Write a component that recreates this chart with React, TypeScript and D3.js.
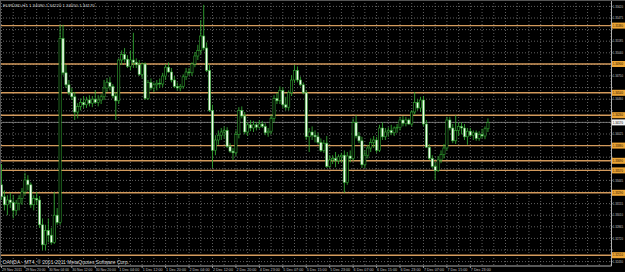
import React from "react";
import * as d3 from "d3";

const symbolName = "EURUSD,H1";
const copyright = "OANDA - MT4, © 2001-2011 MetaQuotes Software Corp.";
const timeLabels = ["29 Nov 2011","29 Nov 20:00","30 Nov 04:00","30 Nov 12:00","30 Nov 20:00","1 Dec 04:00","1 Dec 12:00","1 Dec 20:00","2 Dec 04:00","2 Dec 12:00","2 Dec 20:00","4 Dec 23:00","5 Dec 07:00","5 Dec 15:00","5 Dec 23:00","6 Dec 07:00","6 Dec 15:00","6 Dec 23:00","7 Dec 07:00","7 Dec 15:00","7 Dec 23:00"];

const opens = [1.3339,1.3324,1.3314,1.3320,1.3317,1.3307,1.3316,1.3322,1.3330,1.3345,
1.3339,1.3314,1.3322,1.3320,1.3289,1.3264,1.3282,1.3276,1.3267,1.3301,
1.3292,1.3522,1.3479,1.3464,1.3454,1.3449,1.3430,1.3437,1.3442,1.3439,
1.3445,1.3441,1.3446,1.3442,1.3445,1.3449,1.3460,1.3467,1.3462,1.3450,
1.3444,1.3495,1.3502,1.3496,1.3487,1.3495,1.3492,1.3489,1.3477,1.3490,
1.3447,1.3467,1.3460,1.3464,1.3466,1.3465,1.3475,1.3486,1.3480,1.3470,
1.3462,1.3460,1.3462,1.3474,1.3480,1.3479,1.3490,1.3500,1.3507,1.3525,
1.3510,1.3482,1.3432,1.3382,1.3395,1.3401,1.3405,1.3407,1.3387,1.3381,
1.3379,1.3402,1.3432,1.3425,1.3405,1.3414,1.3410,1.3414,1.3411,1.3415,
1.3412,1.3404,1.3406,1.3422,1.3447,1.3444,1.3457,1.3439,1.3436,1.3454,
1.3470,1.3482,1.3470,1.3464,1.3454,1.3399,1.3405,1.3401,1.3399,1.3392,
1.3382,1.3391,1.3362,1.3370,1.3372,1.3369,1.3374,1.3376,1.3342,1.3375,
1.3372,1.3417,1.3400,1.3394,1.3364,1.3376,1.3385,1.3392,1.3395,1.3382,
1.3410,1.3399,1.3405,1.3407,1.3404,1.3410,1.3411,1.3420,1.3416,1.3420,
1.3415,1.3430,1.3442,1.3435,1.3445,1.3415,1.3386,1.3372,1.3362,1.3357,
1.3370,1.3377,1.3385,1.3420,1.3410,1.3394,1.3407,1.3412,1.3410,1.3399,
1.3406,1.3401,1.3404,1.3397,1.3402,1.3400,1.3409];

const highs = [1.3365,1.3332,1.3326,1.3329,1.3326,1.3320,1.3326,1.3335,1.3354,1.3351,
1.3342,1.3326,1.3330,1.3325,1.3297,1.3289,1.3297,1.3285,1.3330,1.3310,
1.3539,1.3539,1.3489,1.3470,1.3460,1.3455,1.3441,1.3447,1.3450,1.3449,
1.3451,1.3450,1.3457,1.3451,1.3452,1.3470,1.3472,1.3474,1.3465,1.3455,
1.3497,1.3507,1.3510,1.3501,1.3507,1.3529,1.3497,1.3495,1.3492,1.3492,
1.3470,1.3472,1.3467,1.3470,1.3472,1.3479,1.3490,1.3492,1.3485,1.3475,
1.3467,1.3465,1.3477,1.3485,1.3485,1.3492,1.3505,1.3514,1.3545,1.3564,
1.3517,1.3489,1.3439,1.3401,1.3407,1.3410,1.3412,1.3411,1.3391,1.3385,
1.3407,1.3436,1.3437,1.3430,1.3417,1.3420,1.3419,1.3417,1.3420,1.3419,
1.3416,1.3410,1.3426,1.3451,1.3454,1.3462,1.3461,1.3449,1.3457,1.3476,
1.3489,1.3487,1.3474,1.3467,1.3457,1.3410,1.3412,1.3407,1.3404,1.3397,
1.3395,1.3400,1.3376,1.3376,1.3380,1.3377,1.3379,1.3382,1.3380,1.3382,
1.3422,1.3426,1.3405,1.3399,1.3382,1.3389,1.3397,1.3400,1.3399,1.3414,
1.3417,1.3410,1.3411,1.3414,1.3412,1.3415,1.3424,1.3425,1.3424,1.3422,
1.3432,1.3455,1.3446,1.3449,1.3450,1.3420,1.3390,1.3376,1.3367,1.3375,
1.3382,1.3390,1.3424,1.3424,1.3415,1.3426,1.3417,1.3417,1.3415,1.3410,
1.3410,1.3407,1.3407,1.3406,1.3409,1.3412,1.3422];

const lows = [1.3320,1.3307,1.3301,1.3310,1.3297,1.3301,1.3307,1.3314,1.3326,1.3332,
1.3310,1.3307,1.3314,1.3285,1.3257,1.3257,1.3267,1.3264,1.3265,1.3289,
1.3289,1.3476,1.3460,1.3451,1.3445,1.3420,1.3422,1.3432,1.3435,1.3435,
1.3437,1.3436,1.3440,1.3437,1.3440,1.3445,1.3455,1.3457,1.3447,1.3420,
1.3440,1.3489,1.3492,1.3485,1.3482,1.3485,1.3485,1.3475,1.3472,1.3445,
1.3445,1.3457,1.3455,1.3457,1.3460,1.3461,1.3470,1.3479,1.3467,1.3460,
1.3457,1.3456,1.3459,1.3470,1.3476,1.3475,1.3486,1.3495,1.3502,1.3507,
1.3480,1.3430,1.3360,1.3376,1.3389,1.3395,1.3397,1.3385,1.3379,1.3370,
1.3375,1.3397,1.3422,1.3402,1.3400,1.3406,1.3405,1.3407,1.3409,1.3410,
1.3401,1.3399,1.3402,1.3417,1.3440,1.3440,1.3435,1.3432,1.3432,1.3450,
1.3466,1.3467,1.3462,1.3452,1.3395,1.3380,1.3395,1.3392,1.3390,1.3380,
1.3379,1.3360,1.3360,1.3365,1.3361,1.3365,1.3367,1.3329,1.3339,1.3367,
1.3369,1.3397,1.3391,1.3360,1.3360,1.3372,1.3380,1.3385,1.3379,1.3380,
1.3395,1.3395,1.3399,1.3401,1.3400,1.3404,1.3407,1.3412,1.3412,1.3414,
1.3412,1.3427,1.3432,1.3430,1.3412,1.3385,1.3370,1.3360,1.3345,1.3355,
1.3366,1.3372,1.3382,1.3407,1.3391,1.3390,1.3400,1.3402,1.3395,1.3389,
1.3399,1.3395,1.3394,1.3394,1.3397,1.3396,1.3405];

const closes = [1.3324,1.3314,1.3320,1.3317,1.3307,1.3316,1.3322,1.3330,1.3345,1.3339,
1.3314,1.3322,1.3320,1.3289,1.3264,1.3282,1.3276,1.3267,1.3301,1.3292,
1.3522,1.3479,1.3464,1.3454,1.3449,1.3430,1.3437,1.3442,1.3439,1.3445,
1.3441,1.3446,1.3442,1.3445,1.3449,1.3460,1.3467,1.3462,1.3450,1.3444,
1.3495,1.3502,1.3496,1.3487,1.3495,1.3492,1.3489,1.3477,1.3490,1.3447,
1.3467,1.3460,1.3464,1.3466,1.3465,1.3475,1.3486,1.3480,1.3470,1.3462,
1.3460,1.3462,1.3474,1.3480,1.3479,1.3490,1.3500,1.3507,1.3525,1.3510,
1.3482,1.3432,1.3382,1.3395,1.3401,1.3405,1.3407,1.3387,1.3381,1.3379,
1.3402,1.3432,1.3425,1.3405,1.3414,1.3410,1.3414,1.3411,1.3415,1.3412,
1.3404,1.3406,1.3422,1.3447,1.3444,1.3457,1.3439,1.3436,1.3454,1.3470,
1.3482,1.3470,1.3464,1.3454,1.3399,1.3405,1.3401,1.3399,1.3392,1.3382,
1.3391,1.3362,1.3370,1.3372,1.3369,1.3374,1.3376,1.3342,1.3375,1.3372,
1.3417,1.3400,1.3394,1.3364,1.3376,1.3385,1.3392,1.3395,1.3382,1.3410,
1.3399,1.3405,1.3407,1.3404,1.3410,1.3411,1.3420,1.3416,1.3420,1.3415,
1.3430,1.3442,1.3435,1.3445,1.3415,1.3386,1.3372,1.3362,1.3357,1.3370,
1.3377,1.3385,1.3420,1.3410,1.3394,1.3407,1.3412,1.3410,1.3399,1.3406,
1.3401,1.3404,1.3397,1.3402,1.3400,1.3409,1.3417];

const priceTicks = [1.3562,1.35475,1.3533,1.35185,1.3504,1.34895,1.3475,1.34605,1.3446,1.34315,1.3417,1.34025,1.3388,1.33735,1.3359,1.33445,1.333,1.33155,1.3301,1.32865,1.3272,1.32575,1.3243];
const levels = [1.3538,1.3490,1.3454,1.3426,1.3388,1.3369,1.3357,1.3329,1.3251];

export default function App() {
  const W = 625, H = 272;
  const plotR = 611.5, plotB = 266;
  const totalSlots = 208;
  const x = d3.scaleLinear().domain([0, totalSlots]).range([1.5, 611]);
  const y = d3.scaleLinear().domain([1.357, 1.357 - 0.000125 * plotB]).range([0, plotB]);
  const fmt = d3.format(".5f");
  const n = closes.length;
  const bid = closes[n - 1];
  const title = `${symbolName}  ${fmt(opens[n-1])} ${fmt(highs[n-1])} ${fmt(lows[n-1])} ${fmt(closes[n-1])}`;
  const green = "#32a632";
  const orange = "#d39a5c";
  const font = "'Liberation Sans', Arial, sans-serif";
  const vgrid = d3.range(0, totalSlots + 1, 4);
  const boxed = [...levels, bid];
  const visibleTicks = priceTicks.filter((p) => boxed.every((b) => Math.abs(y(b) - y(p)) > 6.2));
  const labelX = 612.8;
  const labelW = 10.2;

  return (
    <div style={{ position: "fixed", left: 0, top: 0, width: W, height: H, background: "#000" }}>
      <svg width={W} height={H} style={{ display: "block", background: "#000" }}>
        <rect x={0} y={0} width={W} height={H} fill="#000" />
        {priceTicks.map((p, i) => (
          <line key={"hg" + i} x1={0} x2={plotR} y1={y(p)} y2={y(p)} stroke="#7a7a7a" strokeWidth={0.8} strokeDasharray="1 2" />
        ))}
        {vgrid.map((k) => (
          <line key={"vg" + k} x1={x(k)} x2={x(k)} y1={0} y2={plotB} stroke="#7a7a7a" strokeWidth={0.8} strokeDasharray="1 2" />
        ))}
        {levels.map((p, i) => (
          <line key={"lv" + i} x1={0} x2={plotR} y1={y(p)} y2={y(p)} stroke={orange} strokeWidth={1.4} />
        ))}
        <line x1={0} x2={plotR} y1={y(bid)} y2={y(bid)} stroke="#8a8a8a" strokeWidth={0.8} />
        {closes.map((c, i) => {
          const o = opens[i];
          const cx = x(i);
          const up = c >= o;
          const top = y(Math.max(o, c));
          const bot = y(Math.min(o, c));
          return (
            <g key={"c" + i}>
              <line x1={cx} x2={cx} y1={y(highs[i])} y2={y(lows[i])} stroke={green} strokeWidth={0.9} />
              <rect x={cx - 1.1} y={top} width={2.2} height={Math.max(bot - top, 0.7)}
                fill={up ? "#000" : "#f2fff0"} stroke={green} strokeWidth={0.6} />
            </g>
          );
        })}
        <line x1={plotR} x2={plotR} y1={0} y2={plotB} stroke="#b0b0b0" strokeWidth={1} />
        <line x1={0} x2={plotR} y1={plotB} y2={plotB} stroke="#b0b0b0" strokeWidth={1} />
        <line x1={0.5} x2={0.5} y1={0} y2={plotB} stroke="#555" strokeWidth={1} />
        <line x1={0} x2={W} y1={0.5} y2={0.5} stroke="#555" strokeWidth={1} />
        {priceTicks.map((p, i) => (
          <line key={"tk" + i} x1={plotR} x2={plotR + 1.2} y1={y(p)} y2={y(p)} stroke="#b0b0b0" strokeWidth={0.8} />
        ))}
        {visibleTicks.map((p, i) => (
          <text key={"pt" + i} x={labelX} y={y(p)} dy="0.35em" fontSize={3.6} fontFamily={font} fill="#c8c8c8"
            textLength={labelW} lengthAdjust="spacingAndGlyphs">{fmt(p)}</text>
        ))}
        {levels.map((p, i) => (
          <g key={"lb" + i}>
            <rect x={plotR + 0.5} y={y(p) - 3} width={W - plotR} height={6} fill="#eda535" />
            <text x={labelX} y={y(p)} dy="0.35em" fontSize={3.6} fontFamily={font} fill="#1a1000"
              textLength={labelW} lengthAdjust="spacingAndGlyphs">{fmt(p)}</text>
          </g>
        ))}
        <rect x={plotR + 0.5} y={y(bid) - 3} width={W - plotR} height={6} fill="#f4f4f4" />
        <text x={labelX} y={y(bid)} dy="0.35em" fontSize={3.6} fontFamily={font} fill="#000"
          textLength={labelW} lengthAdjust="spacingAndGlyphs">{fmt(bid)}</text>
        {timeLabels.map((t, i) => (
          <g key={"tl" + i}>
            <line x1={x(i * 8)} x2={x(i * 8)} y1={plotB} y2={plotB + 2} stroke="#b0b0b0" strokeWidth={0.8} />
            <text x={x(i * 8) + 0.5} y={270.5} fontSize={3.6} fontFamily={font} fill="#c8c8c8"
              textLength={20} lengthAdjust="spacingAndGlyphs">{t}</text>
          </g>
        ))}
        <text x={3} y={7} fontSize={4.3} fontFamily={font} fill="#d8d8d8">{title}</text>
        <text x={2.5} y={264} fontSize={5} fontFamily={font} fill="#d8d8d8">{copyright}</text>
      </svg>
    </div>
  );
}
